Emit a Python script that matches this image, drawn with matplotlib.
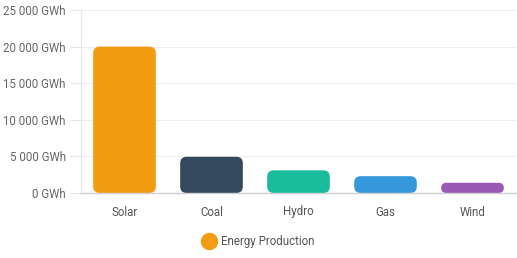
import matplotlib
matplotlib.use("Agg")
import matplotlib.pyplot as plt
from matplotlib.patches import FancyBboxPatch
from matplotlib.lines import Line2D
from matplotlib.ticker import FuncFormatter

categories = ["Solar", "Coal", "Hydro", "Gas", "Wind"]
values = [20000, 4950, 3100, 2300, 1400]
colors = ["#f39c12", "#34495e", "#1abc9c", "#3498db", "#9b59b6"]
yticks = [0, 5000, 10000, 15000, 20000, 25000]
series_name = "Energy Production"

plt.rcParams['font.family'] = ['Roboto', 'DejaVu Sans']

W, H = 517, 258
fig = plt.figure(figsize=(W / 100, H / 100), dpi=100)
ax = fig.add_axes([81 / W, 65 / H, (516 - 81) / W, (248 - 65) / H])

ax.set_xlim(-0.5, len(categories) - 0.5)
ax.set_ylim(0, 25000)

bar_w = 0.72
bars = ax.bar(range(len(categories)), values, width=bar_w, color=colors)

ax_w_px = (516 - 81)
ax_h_px = (248 - 65)
px_x = ax_w_px / len(categories)
px_y = ax_h_px / 25000
aspect = px_x / px_y
r_px = 6.5
for b, c in zip(bars, colors):
    x0, y0 = b.get_x(), b.get_y()
    w, h = b.get_width(), b.get_height()
    b.set_visible(False)
    h_px = h * px_y
    r = min(r_px, h_px / 2, w * px_x / 2) / px_x
    p = FancyBboxPatch((x0, y0), w, h,
                       boxstyle=f"round,pad=0,rounding_size={r}",
                       mutation_aspect=aspect, facecolor=c, edgecolor="none",
                       zorder=3)
    ax.add_patch(p)

ax.set_yticks(yticks)
ax.yaxis.set_major_formatter(FuncFormatter(lambda v, p: f"{int(v):,}".replace(",", " ") + " GWh"))
ax.set_xticks(range(len(categories)))
ax.set_xticklabels(categories)
ax.tick_params(axis='y', length=8, color="#e6e6e6", labelcolor="#666666", labelsize=8.3, pad=3)
ax.tick_params(axis='x', length=0, labelcolor="#555555", labelsize=8.3, pad=9)
ax.grid(axis='y', color="#eeeeee", linewidth=0.8, zorder=0)
ax.set_axisbelow(True)
for s in ["top", "right"]:
    ax.spines[s].set_visible(False)
ax.spines["left"].set_color("#e6e6e6")
ax.spines["left"].set_linewidth(0.8)
ax.spines["bottom"].set_color("#d0d0d0")
ax.spines["bottom"].set_linewidth(1)
ax.spines["bottom"].set_zorder(4)

handle = Line2D([], [], marker='o', linestyle='none', markersize=11.5,
                markerfacecolor=colors[0], markeredgecolor=colors[0])
fig.legend([handle], [series_name], loc='center', bbox_to_anchor=(0.5, 1 - 242 / H),
           frameon=False, fontsize=8.3, labelcolor="#555555",
           handletextpad=0.45, handlelength=1.2)

fig.savefig("out.png", dpi=100)
